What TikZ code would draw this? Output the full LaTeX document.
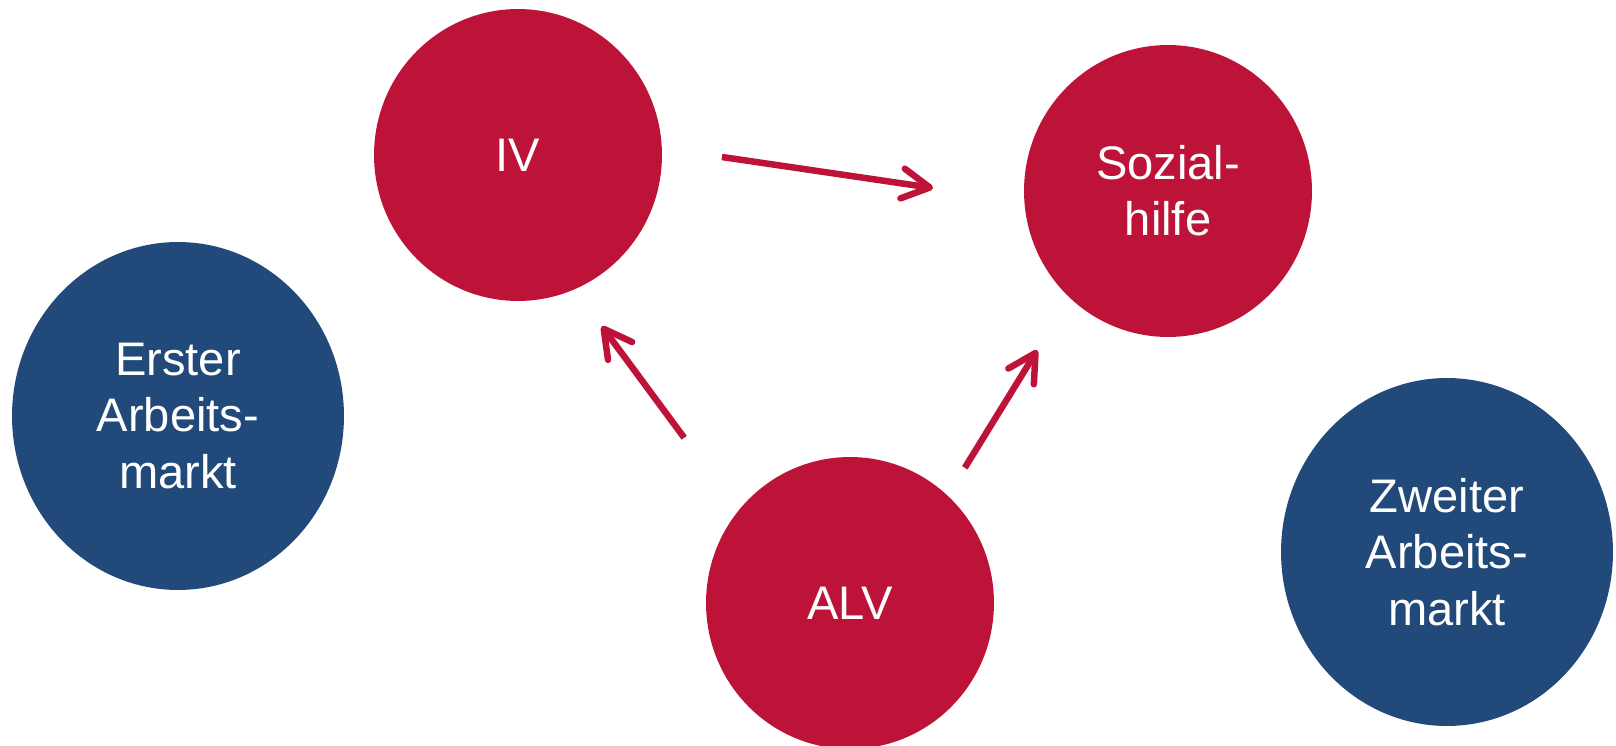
\documentclass[tikz,border=0pt]{standalone}
\usepackage{fontspec}
\setmainfont{Liberation Sans}
\usetikzlibrary{shapes.geometric,arrows.meta}
\definecolor{kasred}{RGB}{190,19,57}
\definecolor{kasblue}{RGB}{33,74,123}
\newcommand{\circletext}{\fontsize{26.8}{32}\selectfont}
\tikzstyle{insurance}=[ellipse, fill=kasred, text=white, inner sep=0pt, outer sep=0pt, minimum width=5.76cm, minimum height=5.84cm, align=center, font=\circletext]
\tikzstyle{market}=[ellipse, fill=kasblue, text=white, inner sep=0pt, outer sep=0pt, minimum width=6.64cm, minimum height=6.96cm, align=center, font=\circletext]
\tikzstyle{flow}=[draw=kasred, line width=0.13cm, -{Straight Barb[length=0.55cm, width=0.6cm, round]}]

\begin{document}
\begin{tikzpicture}[x=0.02cm, y=-0.02cm]
				\useasboundingbox (0,0) rectangle (1616,746);
				
				%The labour markets
				\draw (178,416) node[market] (erster) {Erster\\Arbeits-\\markt};
				\draw (1447,552) node[market] (zweiter) {Zweiter\\Arbeits-\\markt};
				
				%The insurances
				\draw (518,155) node[insurance] (iv) {IV};
				\draw (1168,191) node[insurance] (soz) {Sozial-\\hilfe};
				\draw (850,603) node[insurance] (alv) {ALV};
				
				\draw[flow] ([shift={(60,2)}]iv.east) -- ([shift={(-91,-3)}]soz.west);
				\draw[flow] ([shift={(-64,-62)}]alv.north west) -- ([shift={(-18,68)}]iv.south east);
				\draw[flow] ([shift={(13,-32)}]alv.north east) -- ([shift={(-29,56)}]soz.south west);
			\end{tikzpicture}
\end{document}
